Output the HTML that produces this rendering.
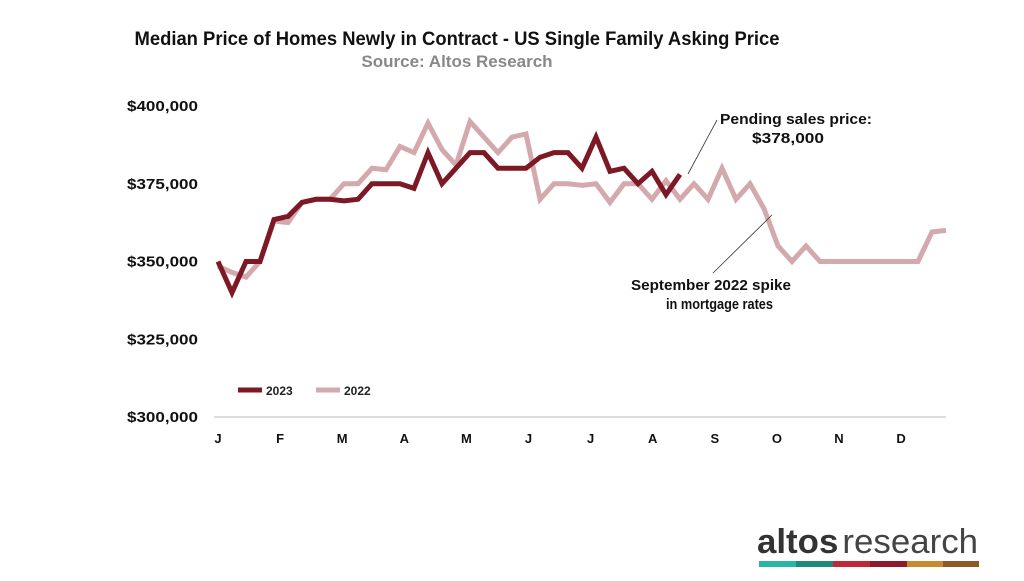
<!DOCTYPE html>
<html><head><meta charset="utf-8"><style>
body{margin:0;background:#fff;width:1024px;height:576px;overflow:hidden;font-family:"Liberation Sans",sans-serif}
</style></head><body>
<svg width="1024" height="576" id="svg">
<text x="457" y="45" text-anchor="middle" font-size="19" font-weight="bold" fill="#111" textLength="645" lengthAdjust="spacingAndGlyphs">Median Price of Homes Newly in Contract - US Single Family Asking Price</text>
<text x="457" y="67" text-anchor="middle" font-size="17" font-weight="bold" fill="#888">Source: Altos Research</text>
<g id="yaxis"></g>
<g id="xaxis"></g>
<line x1="214" x2="946" y1="417" y2="417" stroke="#bbb" stroke-width="1"/>
<g id="lines"></g>
<g>
<line x1="238" x2="262" y1="390" y2="390" stroke="#7d1825" stroke-width="5"/>
<text x="266" y="395" font-size="12" font-weight="bold" fill="#222">2023</text>
<line x1="316" x2="340" y1="390" y2="390" stroke="#d4a9ad" stroke-width="5"/>
<text x="344" y="395" font-size="12" font-weight="bold" fill="#222">2022</text>
</g>
<line x1="688" y1="174" x2="717" y2="120" stroke="#333" stroke-width="0.8"/>
<text x="720" y="124" font-size="15" font-weight="bold" fill="#111" textLength="152" lengthAdjust="spacingAndGlyphs">Pending sales price:</text>
<text x="752" y="143" font-size="15" font-weight="bold" fill="#111" textLength="72" lengthAdjust="spacingAndGlyphs">$378,000</text>
<line x1="713" y1="273" x2="772" y2="215" stroke="#333" stroke-width="0.8"/>
<text x="631" y="290" font-size="15" font-weight="bold" fill="#111" textLength="160" lengthAdjust="spacingAndGlyphs">September 2022 spike</text>
<text x="666" y="309" font-size="15" font-weight="bold" fill="#111" textLength="107" lengthAdjust="spacingAndGlyphs">in mortgage rates</text>
<g>
<text x="757" y="553" font-size="34" fill="#333" textLength="221" lengthAdjust="spacingAndGlyphs"><tspan font-weight="bold">altos</tspan><tspan font-weight="normal" fill="#444" dx="4">research</tspan></text>
<rect x="759" y="561" width="37" height="6" fill="#2bb5a8"/><rect x="796" y="561" width="37" height="6" fill="#1f8a7a"/>
<rect x="833" y="561" width="37" height="6" fill="#c0283a"/><rect x="870" y="561" width="37" height="6" fill="#8e1a2c"/>
<rect x="907" y="561" width="36" height="6" fill="#c68a30"/><rect x="943" y="561" width="36" height="6" fill="#8c5a22"/>
</g>
</svg>
<script>
const months=["J","F","M","A","M","J","J","A","S","O","N","D"];
const yTicks=[300000,325000,350000,375000,400000];
const s2022=[348.5,346.5,345,350,363,362.5,369,370,370,375,375,380,379.5,387,385,394.5,386,381,395,390,385,390,391,370,375,375,374.5,375,369,375,375,370,376,370,375,370,380,370,375,367,355,350,355,350,350,350,350,350,350,350,350,359.5,360];
const s2023=[350,340,350,350,363.5,364.5,369,370,370,369.5,370,375,375,375,373.5,385,375,380,385,385,380,380,380,383.5,385,385,380,390,379,380,375,379,371.5,378];
const ns="http://www.w3.org/2000/svg";
const X=i=>218+i*14;
const Y=v=>417-(v-300000)*(311/100000);
const ya=document.getElementById('yaxis'),xa=document.getElementById('xaxis'),lg=document.getElementById('lines');
yTicks.forEach(v=>{const t=document.createElementNS(ns,'text');


t.setAttribute('x',127);t.setAttribute('y',Y(v)+5);t.setAttribute('font-size','15');t.setAttribute('font-weight','bold');t.setAttribute('fill','#111');
t.setAttribute('textLength','71');t.setAttribute('lengthAdjust','spacingAndGlyphs');
t.textContent='$'+v.toLocaleString('en-US');ya.appendChild(t);});
months.forEach((m,i)=>{const t=document.createElementNS(ns,'text');


t.setAttribute('x',218+i*62.1);t.setAttribute('y',443);t.setAttribute('text-anchor','middle');t.setAttribute('font-size','13');t.setAttribute('font-weight','bold');t.setAttribute('fill','#111');
t.textContent=m;xa.appendChild(t);});
function line(arr,color,name){const p=document.createElementNS(ns,'polyline');


p.setAttribute('points',arr.map((v,i)=>X(i)+','+Y(v*1000)).join(' '));
p.setAttribute('fill','none');p.setAttribute('stroke',color);p.setAttribute('stroke-width','5');p.setAttribute('stroke-linejoin','miter');
lg.appendChild(p);}
line(s2022,'#d4a9ad','line-2022');
line(s2023,'#7d1825','line-2023');
</script>
</body></html>
